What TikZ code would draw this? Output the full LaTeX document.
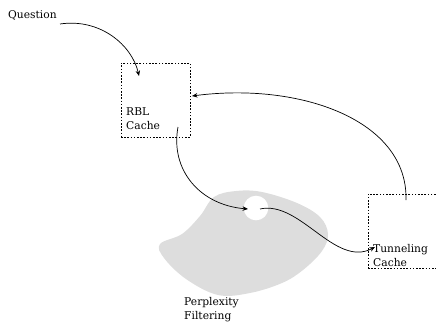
\documentclass[tikz,border=0pt]{standalone}
\usepackage{fontspec}
\setmainfont{DejaVu Serif}
\usetikzlibrary{arrows.meta}
\definecolor{blobgrey}{HTML}{DDDDDD}
\begin{document}
\begin{tikzpicture}[x=1pt,y=-1pt,
  lbl/.style={inner sep=0pt,anchor=base west,align=left,text width=70pt,
    font=\fontsize{10.7}{14.5}\selectfont},
  dbox/.style={draw,line width=0.6pt,dash pattern=on 1.6pt off 1.6pt,inner sep=0pt},
  conn/.style={line width=0.7pt,-{Stealth[length=5.5pt,width=4.5pt]}}]
\useasboundingbox (0,0) rectangle (436,322);
\clip (0,0) rectangle (436,322);
% blob
\fill[blobgrey] plot[smooth cycle,tension=0.6] coordinates
  {(160,244) (182,234) (200,216) (214,197) (236,191) (262,192) (297,203) (320,217)
   (328,234) (322,251) (303,270) (282,283) (250,293) (218,295) (186,279) (164,258)};
\fill[white] (256,208) circle (12.3);
% boxes
\node[dbox,minimum width=69pt,minimum height=74pt] (rbl) at (155.5,100) {};
\node[dbox,minimum width=80pt,minimum height=74pt] (tun) at (408,231) {};
% labels
\node[lbl] (q) at (8,18) {Question};
\node[lbl] (rbltxt) at (126,115) {RBL\\Cache};
\node[lbl] (tuntxt) at (373,252) {Tunneling\\Cache};
\node[lbl] (pf) at (184,305) {Perplexity\\Filtering};
% connector end points
\coordinate (qs) at (60,24);
\coordinate (rblin) at (139,76);
\coordinate (rblright) at (192,96);
\coordinate (rblout) at (178,127);
\coordinate (holein) at (248,209);
\coordinate (holeout) at (260,209);
\coordinate (tunin) at (375,247);
\coordinate (tunout) at (406,200);
% connectors
\draw[conn] (qs) .. controls (100,18) and (132,45) .. (rblin);
\draw[conn] (tunout) .. controls (408,120) and (300,82) .. (rblright);
\draw[conn] (rblout) .. controls (170,170) and (200,205) .. (holein);
\draw[conn] (holeout) .. controls (300,200) and (335,268) .. (tunin);
\end{tikzpicture}
\end{document}
